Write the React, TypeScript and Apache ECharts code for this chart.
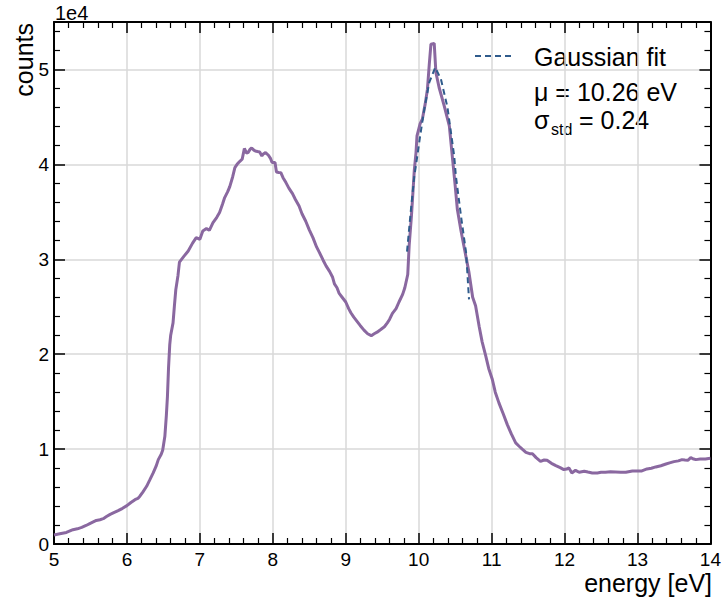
import React, { useEffect, useRef } from "react";
import * as echarts from "echarts";

const energy = [
  5.0, 5.08, 5.17, 5.26, 5.32, 5.38, 5.44, 5.49, 5.58, 5.63, 5.675, 5.72, 5.77, 5.82, 5.88, 5.94,
  6.0, 6.05, 6.11, 6.15, 6.18, 6.22, 6.27, 6.31, 6.36, 6.4, 6.43, 6.47, 6.49, 6.52, 6.54, 6.555,
  6.57, 6.587, 6.6, 6.632, 6.65, 6.67, 6.7, 6.72, 6.78, 6.84, 6.9, 6.95, 7.0, 7.04, 7.09, 7.13,
  7.18, 7.23, 7.27, 7.31, 7.34, 7.38, 7.41, 7.45, 7.48, 7.51, 7.545, 7.58, 7.61, 7.64, 7.66, 7.69,
  7.71, 7.74, 7.76, 7.79, 7.82, 7.85, 7.87, 7.9, 7.94, 7.97, 7.99, 8.03, 8.05, 8.08, 8.11, 8.14,
  8.18, 8.22, 8.27, 8.31, 8.36, 8.4, 8.45, 8.5, 8.55, 8.6, 8.64, 8.69, 8.73, 8.78, 8.82, 8.845,
  8.88, 8.91, 8.95, 9.0, 9.04, 9.07, 9.11, 9.16, 9.2, 9.25, 9.3, 9.35, 9.39, 9.43, 9.48, 9.53,
  9.57, 9.6, 9.64, 9.69, 9.73, 9.78, 9.81, 9.85, 9.87, 9.9, 9.915, 9.94, 9.963, 9.977, 10.02, 10.05,
  10.09, 10.12, 10.145, 10.168, 10.213, 10.236, 10.28, 10.35, 10.42, 10.465, 10.5, 10.53, 10.58, 10.62, 10.69, 10.74,
  10.78, 10.83, 10.87, 10.92, 10.96, 11.01, 11.05, 11.1, 11.16, 11.215, 11.27, 11.33, 11.377, 11.42, 11.47, 11.52,
  11.56, 11.61, 11.67, 11.72, 11.76, 11.82, 11.88, 11.94, 11.99, 12.03, 12.06, 12.1, 12.15, 12.2, 12.27, 12.32,
  12.38, 12.45, 12.5, 12.56, 12.63, 12.7, 12.77, 12.84, 12.93, 13.0, 13.06, 13.13, 13.19, 13.25, 13.32, 13.38,
  13.44, 13.5, 13.56, 13.61, 13.65, 13.69, 13.73, 13.77, 13.8, 13.86, 13.93, 14.0,
];

const counts = [
  950, 1080, 1220, 1510, 1600, 1750, 1950, 2140, 2480, 2560, 2670, 2900, 3120, 3300, 3510, 3760,
  4040, 4350, 4670, 4800, 5060, 5500, 6080, 6700, 7490, 8200, 8890, 9450, 9870, 11350, 13500, 15500,
  18500, 21000, 22000, 23300, 25000, 26800, 28300, 29700, 30300, 30870, 31700, 32280, 32100, 32980, 33230, 33050,
  33860, 34400, 34920, 35800, 36500, 37100, 37660, 38700, 39660, 40000, 40300, 40540, 41670, 41200, 41240, 41600,
  41730, 41500, 41410, 41350, 41300, 40890, 41100, 41240, 40960, 40600, 40190, 40190, 39200, 39150, 39130, 38600,
  38080, 37500, 36920, 36300, 35610, 34800, 34030, 33100, 32280, 31300, 30700, 29900, 29300, 28700, 28100, 27400,
  27000, 26400, 26000, 25500, 24800, 24370, 23900, 23400, 23000, 22530, 22150, 21950, 22150, 22320, 22600, 22890,
  23300, 23660, 24300, 24800, 25500, 26300, 27000, 28400, 31500, 34500, 36300, 39400, 41200, 43000, 44300, 44760,
  46400, 47920, 50500, 52670, 52740, 49680, 48100, 46160, 44050, 40540, 37800, 35260, 33000, 31400, 28590, 26000,
  25100, 22900, 21300, 19790, 18500, 17330, 16000, 14870, 13700, 12580, 11600, 10650, 10300, 10000, 9660, 9520,
  9520, 9100, 8710, 8850, 8820, 8500, 8260, 8050, 7840, 7900, 8010, 7490, 7760, 7560, 7670, 7580,
  7490, 7490, 7550, 7560, 7600, 7590, 7570, 7560, 7700, 7680, 7700, 7910, 7980, 8120, 8250, 8400,
  8550, 8680, 8760, 8890, 8850, 8820, 9100, 8950, 8890, 8950, 8960, 9030,
];

const fitEnergy = [9.84, 9.894, 9.94, 9.963, 10.02, 10.077, 10.145, 10.227, 10.305, 10.395, 10.487, 10.51, 10.58, 10.65, 10.69];
const fitCounts = [30800, 35260, 38780, 39900, 43000, 45810, 48630, 50210, 48980, 45990, 40890, 38780, 34560, 30700, 25770];

const xTicks = [5, 6, 7, 8, 9, 10, 11, 12, 13, 14];
const yTicksScaled = [0, 1, 2, 3, 4, 5];

const fitLabel = "Gaussian fit";
const muText = "μ = 10.26 eV";
const sigmaSymbol = "σ";
const sigmaSub = "std";
const sigmaRest = "= 0.24";

const FONT = "'Liberation Sans', Arial, Helvetica, sans-serif";

export default function App() {
  const ref = useRef<HTMLDivElement>(null);
  useEffect(() => {
    if (!ref.current) return;
    const chart = echarts.init(ref.current, null, { renderer: "svg" });
    const mainData = energy.map((e, i) => [e, counts[i]]);
    const fitData = fitEnergy.map((e, i) => [e, fitCounts[i]]);
    const axisCommon = {
      type: "value" as const,
      axisLine: { show: true, onZero: false, lineStyle: { color: "#000", width: 2 } },
      axisTick: { show: true, inside: true, length: 11, lineStyle: { color: "#000", width: 1.5 } },
      minorTick: { show: true, splitNumber: 5, length: 6, lineStyle: { color: "#000", width: 1.2 } },
    };
    const txt = (x: number, y: number, text: string, fontSize: number, align = "left") => ({
      type: "text",
      x,
      y,
      style: { text, fontSize, fontFamily: FONT, fill: "#000", textAlign: align, textVerticalAlign: "middle" },
    });
    chart.setOption({
      animation: false,
      backgroundColor: "#fff",
      grid: { left: 54, right: 12, top: 22, bottom: 56, containLabel: false },
      xAxis: [
        {
          ...axisCommon,
          position: "bottom",
          min: xTicks[0],
          max: xTicks[xTicks.length - 1],
          interval: 1,
          axisLabel: { show: true, margin: 6, fontSize: 19, color: "#000", fontFamily: FONT },
          splitLine: { show: true, lineStyle: { color: "#d9d9d9", width: 1.5 } },
        },
        {
          ...axisCommon,
          position: "top",
          min: xTicks[0],
          max: xTicks[xTicks.length - 1],
          interval: 1,
          axisLabel: { show: false },
          splitLine: { show: false },
        },
      ],
      yAxis: [
        {
          ...axisCommon,
          position: "left",
          min: 0,
          max: 55000,
          interval: 10000,
          axisLabel: {
            show: true,
            margin: 5,
            fontSize: 19,
            color: "#000",
            fontFamily: FONT,
            formatter: (v: number) => {
              const s = v / 10000;
              return yTicksScaled.includes(s) ? String(s) : "";
            },
          },
          splitLine: { show: true, lineStyle: { color: "#d9d9d9", width: 1.5 } },
        },
        {
          ...axisCommon,
          position: "right",
          min: 0,
          max: 55000,
          interval: 10000,
          axisLabel: { show: false },
          splitLine: { show: false },
        },
      ],
      series: [
        {
          type: "line",
          name: "counts",
          data: mainData,
          showSymbol: false,
          symbol: "none",
          lineStyle: { color: "#8a68a0", width: 3 },
          z: 2,
        },
        {
          type: "line",
          name: fitLabel,
          data: fitData,
          showSymbol: false,
          symbol: "none",
          lineStyle: { color: "#2f5b8c", width: 2, type: [6, 4] },
          z: 3,
        },
      ],
      graphic: [
        {
          type: "text",
          x: 24,
          y: 23,
          rotation: Math.PI / 2,
          style: { text: "counts", fontSize: 25, fontFamily: FONT, fill: "#000", textAlign: "right", textVerticalAlign: "middle" },
        },
        txt(712, 583, "energy [eV]", 25, "right"),
        txt(55, 13, "1e4", 20),
        {
          type: "line",
          shape: { x1: 475, y1: 56, x2: 513, y2: 56 },
          style: { stroke: "#2f5b8c", lineWidth: 2, lineDash: [6, 4] },
        },
        txt(534, 57, fitLabel, 25),
        txt(534, 92, muText, 25),
        txt(534, 120, sigmaSymbol, 25),
        txt(551, 129, sigmaSub, 16),
        txt(579, 120, sigmaRest, 25),
      ],
    });
    return () => chart.dispose();
  }, []);
  return <div ref={ref} style={{ position: "fixed", left: 0, top: 0, width: 724, height: 600 }} />;
}
